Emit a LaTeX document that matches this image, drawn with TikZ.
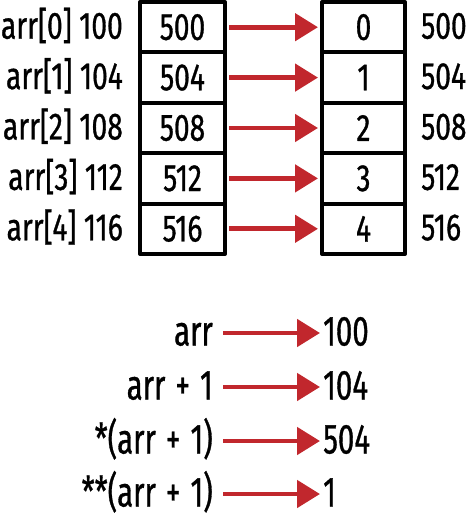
\documentclass[tikz,border=0pt]{standalone}
\usepackage{fontspec}
\setmainfont{Fira Sans}
\newfontfamily\topfont[FakeStretch=0.74,FakeBold=0.8]{Fira Sans}
\newfontfamily\botfont[FakeStretch=0.70,FakeBold=0.8]{Fira Sans}
\usetikzlibrary{arrows.meta}
\definecolor{arrred}{HTML}{C1272D}
\newcommand{\pl}{\hspace{10pt}+\hspace{10pt}}
\begin{document}
\begin{tikzpicture}[x=1pt,y=-1pt,
  cell/.style={draw=black, line width=4pt, line join=round, minimum height=50.4pt, inner sep=0pt, font=\topfont\fontsize{38}{38}\selectfont},
  lcell/.style={cell, minimum width=85pt},
  rcell/.style={cell, minimum width=83pt},
  lab/.style={inner sep=0pt, font=\topfont\fontsize{38}{38}\selectfont},
  blab/.style={inner sep=0pt, font=\botfont\fontsize{42}{42}\selectfont},
  redarrow/.style={draw=arrred, line width=4.8pt, -{Triangle[length=23pt,width=27pt]}}
]
\useasboundingbox (0,0) rectangle (467,518);
% top part
\foreach \i/\v/\a/\lbl in {0/500/100/0,1/504/104/1,2/508/108/2,3/512/112/3,4/516/116/4}{
  \pgfmathsetmacro{\yc}{27.2+50.4*\i}
  \node[lcell] (L\i) at (182.5,\yc) {\v};
  \node[rcell] (R\i) at (363.5,\yc) {\lbl};
  \node[lab, anchor=base east] (A\i) at (123,\yc+11.5) {arr[\lbl] \a};
  \node[lab, anchor=base west] (B\i) at (421,\yc+11.5) {\v};
  \draw[redarrow, shorten <=2pt, shorten >=2pt] (L\i.east) -- (R\i.west);
}
% bottom part
\foreach \i/\e/\r/\yc in {0/{arr}/100/333,1/{arr\pl 1}/104/387,2/{*(arr\pl 1)}/504/441,3/{**(arr\pl 1)}/1/494}{
  \node[blab, anchor=base east] (E\i) at (213,\yc+12.5) {\e};
  \node[blab, anchor=base west] (V\i) at (323,\yc+12.5) {\r};
  \draw[redarrow, shorten <=10pt, shorten >=3pt] (E\i.east |- 0,\yc) -- (V\i.west |- 0,\yc);
}
\end{tikzpicture}
\end{document}
